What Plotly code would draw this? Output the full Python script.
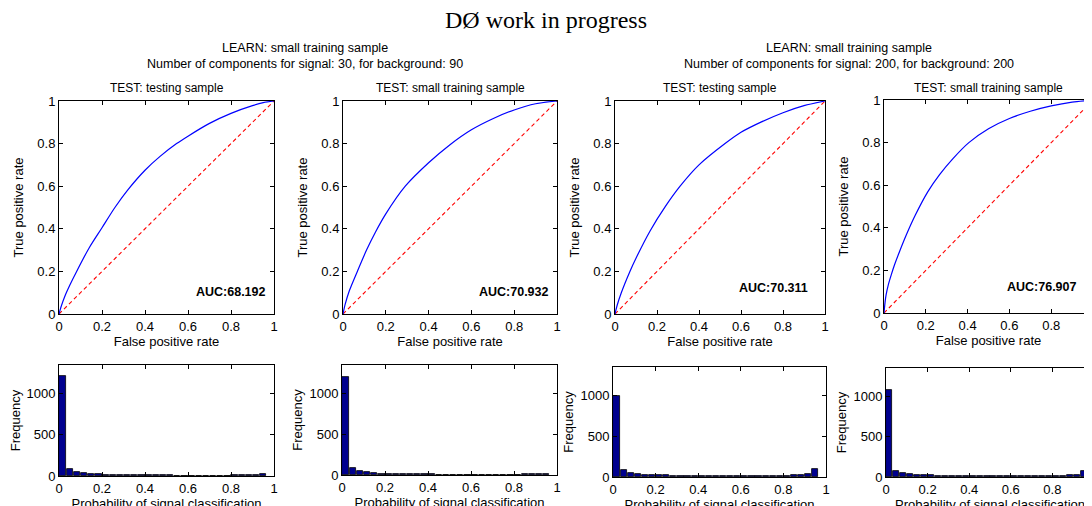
import plotly.graph_objects as go

# ---------------- data ----------------
panel_titles = ["TEST: testing sample", "TEST: small training sample",
                "TEST: testing sample", "TEST: small training sample"]
learn_titles = [
    "LEARN: small training sample<br>Number of components for signal: 30, for background: 90",
    "LEARN: small training sample<br>Number of components for signal: 200, for background: 200",
]
auc_labels = ["AUC:68.192", "AUC:70.932", "AUC:70.311", "AUC:76.907"]

roc_fpr_1 = [0, 0.01, 0.03, 0.05, 0.082, 0.14, 0.2, 0.26, 0.322, 0.4, 0.47, 0.547, 0.6, 0.7, 0.8, 0.9, 0.95, 1.0]
roc_tpr_1 = [0, 0.035, 0.09, 0.135, 0.20, 0.31, 0.405, 0.50, 0.585, 0.675, 0.74, 0.80, 0.835, 0.895, 0.942, 0.978, 0.992, 1.0]

roc_fpr_2 = [0, 0.01, 0.03, 0.067, 0.11, 0.152, 0.2, 0.291, 0.4, 0.5, 0.6, 0.7, 0.8, 0.9, 1.0]
roc_tpr_2 = [0, 0.045, 0.11, 0.20, 0.30, 0.385, 0.47, 0.60, 0.71, 0.795, 0.865, 0.917, 0.958, 0.987, 1.0]

roc_fpr_3 = [0, 0.01, 0.03, 0.071, 0.1, 0.167, 0.24, 0.31, 0.4, 0.524, 0.6, 0.7, 0.8, 0.9, 1.0]
roc_tpr_3 = [0, 0.04, 0.10, 0.20, 0.262, 0.39, 0.505, 0.60, 0.70, 0.80, 0.853, 0.903, 0.945, 0.978, 1.0]

roc_fpr_4 = [0, 0.005, 0.01, 0.02, 0.035, 0.05, 0.075, 0.106, 0.15, 0.21, 0.266, 0.33, 0.406, 0.5, 0.6, 0.7, 0.8, 0.9, 1.0]
roc_tpr_4 = [0, 0.05, 0.085, 0.13, 0.18, 0.225, 0.29, 0.365, 0.46, 0.57, 0.65, 0.725, 0.80, 0.865, 0.913, 0.947, 0.972, 0.99, 1.0]

hist_centers = [0.0167, 0.05, 0.0833, 0.1167, 0.15, 0.1833, 0.2167, 0.25, 0.2833, 0.3167,
                0.35, 0.3833, 0.4167, 0.45, 0.4833, 0.5167, 0.55, 0.5833, 0.6167, 0.65,
                0.6833, 0.7167, 0.75, 0.7833, 0.8167, 0.85, 0.8833, 0.9167, 0.95]
hist_1 = [1215, 85, 48, 36, 28, 22, 16, 14, 12, 12, 11, 9, 8, 8, 7, 7, 6, 6, 6, 6,
          6, 6, 6, 6, 7, 8, 9, 10, 20]
hist_2 = [1200, 88, 52, 36, 24, 16, 12, 11, 10, 9, 8, 7, 7, 6, 6, 6, 5, 5, 5, 5,
          5, 5, 5, 6, 6, 7, 8, 10, 18]
hist_3 = [1000, 83, 50, 35, 28, 24, 22, 20, 18, 16, 14, 12, 11, 10, 10, 9, 9, 9, 9, 9,
          10, 10, 11, 12, 14, 20, 25, 34, 98]
hist_4 = [1075, 75, 46, 33, 25, 22, 20, 18, 16, 14, 12, 11, 10, 10, 9, 9, 9, 9, 9, 9,
          10, 10, 11, 12, 14, 16, 20, 30, 79]

roc_data = [(roc_fpr_1, roc_tpr_1), (roc_fpr_2, roc_tpr_2), (roc_fpr_3, roc_tpr_3), (roc_fpr_4, roc_tpr_4)]
hist_data = [hist_1, hist_2, hist_3, hist_4]

# ---------------- layout helpers ----------------
W, H = 1092, 506
OFF = 8  # page body margin: the figure is drawn 8px right and 8px down
FONT = "Liberation Sans, Arial, Helvetica, sans-serif"

# boxes in page pixels (left, right, top, bottom)
roc_boxes = [(59, 274, 101, 314), (343, 557, 101, 314), (615, 825, 101, 314), (884, 1093, 100, 313)]
hist_boxes = [(59, 274, 365, 476), (342, 557, 365, 475), (613, 826, 367, 477), (886, 1094, 368, 477)]

def fx(p):
    return min(max((p - OFF) / W, 0.0), 1.0)

def fy(p):
    return min(max(1 - (p - OFF) / H, 0.0), 1.0)

def xd(a, b):
    return [fx(a), fx(b)]

def yd(top, bottom):
    return [fy(bottom), fy(top)]

fig = go.Figure()
layout = {}

def axis_style(**kw):
    d = dict(showline=True, linecolor="black", linewidth=1, mirror="ticks",
             ticks="inside", ticklen=4, tickcolor="black", showgrid=False,
             zeroline=False, automargin=False,
             tickfont=dict(family=FONT, size=13, color="black"))
    d.update(kw)
    return d

tick01 = [0, 0.2, 0.4, 0.6, 0.8, 1]
tick01_text = ["0", "0.2", "0.4", "0.6", "0.8", "1"]

for i in range(4):
    n = i + 1
    xa = "x" if n == 1 else f"x{n}"
    ya = "y" if n == 1 else f"y{n}"
    x0, x1, t, b = roc_boxes[i]
    fpr, tpr = roc_data[i]
    fig.add_trace(go.Scatter(x=[0, 1], y=[0, 1], mode="lines", line=dict(color="#FF0000", width=1.1, dash="4px,3px"),
                             xaxis=xa, yaxis=ya, showlegend=False, hoverinfo="skip"))
    fig.add_trace(go.Scatter(x=fpr, y=tpr, mode="lines", line=dict(color="#0000FF", width=1.2, shape="spline", smoothing=0.8),
                             xaxis=xa, yaxis=ya, showlegend=False, hoverinfo="skip"))
    # for the last (clipped) panel, extend range so that x=1 sits at the true pixel
    xr_end = 1.0
    if x1 - OFF > W:
        xr_end = (W + OFF - x0) / (x1 - x0)
    layout[f"xaxis{'' if n == 1 else n}"] = axis_style(
        domain=xd(x0, x1), range=[0, xr_end], anchor=ya, tickvals=tick01, ticktext=tick01_text,
        title=dict(text="False positive rate", font=dict(family=FONT, size=13, color="black"), standoff=4))
    layout[f"yaxis{'' if n == 1 else n}"] = axis_style(
        domain=yd(t, b), range=[0, 1], anchor=xa, tickvals=tick01, ticktext=tick01_text,
        title=dict(text="True positive rate", font=dict(family=FONT, size=13, color="black"), standoff=10))
    fig.add_annotation(x=0.8 if i < 2 else 0.755, y=0.105 if i < 2 else 0.12, xref=xa, yref=ya,
                       text=f"<b>{auc_labels[i]}</b>", showarrow=False, xanchor="center", yanchor="middle",
                       font=dict(family=FONT, size=12.5, color="black"))
    fig.add_annotation(x=fx((roc_boxes[i][0] + (roc_boxes[i][1] if i < 3 else 1093)) / 2), y=fy(88),
                       xref="paper", yref="paper",
                       text=panel_titles[i], showarrow=False, xanchor="center", yanchor="middle",
                       font=dict(family=FONT, size=12, color="black"))

for i in range(4):
    n = i + 5
    xa, ya = f"x{n}", f"y{n}"
    x0, x1, t, b = hist_boxes[i]
    fig.add_trace(go.Bar(x=hist_centers, y=hist_data[i], width=0.029,
                         marker=dict(color="#00008F", line=dict(color="#000000", width=0.8)),
                         xaxis=xa, yaxis=ya, showlegend=False, hoverinfo="skip"))
    xr_end = 1.0
    if x1 - OFF > W:
        xr_end = (W + OFF - x0) / (x1 - x0)
    layout[f"xaxis{n}"] = axis_style(
        domain=xd(x0, x1), range=[0, xr_end], anchor=ya, tickvals=tick01, ticktext=tick01_text,
        title=dict(text="Probability of signal classification", font=dict(family=FONT, size=13, color="black"), standoff=1))
    layout[f"yaxis{n}"] = axis_style(
        domain=yd(t, b), range=[0, 1350], anchor=xa, tickvals=[0, 500, 1000], ticktext=["0", "500", "1000"],
        title=dict(text="Frequency", font=dict(family=FONT, size=13, color="black"), standoff=3))

for j, cx in enumerate([305, 849]):
    fig.add_annotation(x=fx(cx), y=fy(56), xref="paper", yref="paper", text=learn_titles[j],
                       showarrow=False, xanchor="center", yanchor="middle",
                       font=dict(family=FONT, size=12.5, color="black"))

fig.update_layout(
    width=W, height=H, margin=dict(l=0, r=0, t=0, b=0, autoexpand=False),
    paper_bgcolor="white", plot_bgcolor="white",
    title=dict(text="DØ work in progress", x=fx(546), xanchor="center", y=fy(20), yanchor="middle",
               xref="container", yref="container",
               font=dict(family="Liberation Serif, DejaVu Serif, serif", size=24, color="black")),
    bargap=0, **layout)

fig.write_html("out.html")
